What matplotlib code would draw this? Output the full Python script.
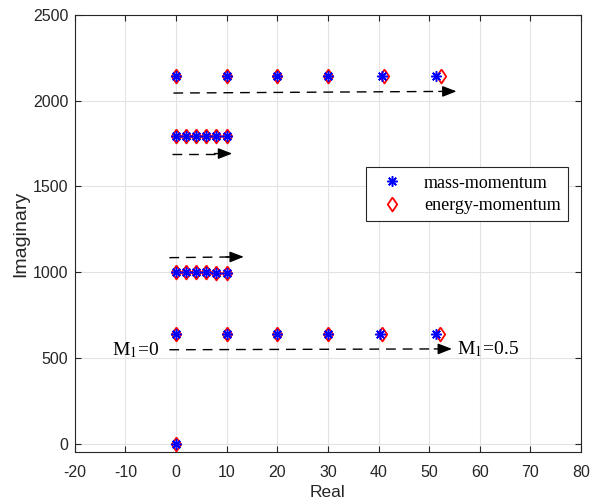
import matplotlib.pyplot as plt

# eigenvalues for M1 = 0 ... 0.5 (real, imaginary)
mass_re = [0, 0, 10, 20, 30, 40.6, 51.4,
           0, 2, 4, 6, 8, 10,
           0, 2, 4, 6, 8, 10,
           0, 10, 20, 30, 40.2, 51.3]
mass_im = [0, 2147, 2147, 2147, 2147, 2147, 2147,
           1792, 1792, 1792, 1792, 1792, 1792,
           1001, 1001, 1000, 999, 997, 995,
           640, 640, 640, 640, 640, 640]
energy_re = [0, 0, 10, 20, 30, 41.0, 52.4,
             0, 2, 4, 6, 8, 10,
             0, 2, 4, 6, 8, 10,
             0, 10, 20, 30, 40.7, 52.2]
energy_im = [0, 2147, 2147, 2147, 2147, 2147, 2147,
             1792, 1792, 1792, 1792, 1792, 1792,
             1001, 1001, 1000, 999, 997, 994,
             640, 640, 640, 640, 640, 640]

# dashed arrows showing the direction of increasing M1: (x0, y0, x1, y1)
arrows = [(-0.5, 2045, 55.4, 2055),
          (-0.8, 1692, 11.1, 1692),
          (-1.3, 1085, 13.4, 1090),
          (-1.3, 548, 54.5, 553)]

xticks = list(range(-20, 81, 10))
yticks = list(range(0, 2501, 500))

plt.rcParams['font.family'] = ['Liberation Sans', 'DejaVu Sans']
plt.rcParams['axes.unicode_minus'] = False
plt.rcParams['mathtext.fontset'] = 'stix'
ink = '#262626'

diamond = [(0, 1), (0.68, 0), (0, -1), (-0.68, 0), (0, 1)]

fig = plt.figure(figsize=(5.96, 5.04), dpi=100)
ax = fig.add_axes([0.1253, 0.1026, 0.8497, 0.8676])

ax.plot(energy_re, energy_im, linestyle='none', marker=diamond, markersize=10,
        markerfacecolor='none', markeredgecolor='red', markeredgewidth=1.3,
        label='energy-momentum', zorder=3)
ax.plot(mass_re, mass_im, linestyle='none', marker=(8, 2, 0), markersize=7.5,
        color='blue', markeredgewidth=1.1, label='mass-momentum', zorder=4)

for x0, y0, x1, y1 in arrows:
    xh = x1 - 0.035 * (x1 - x0) - 1.5
    ax.plot([x0, xh], [y0, y0 + (y1 - y0) * (xh - x0) / (x1 - x0)],
            color='black', lw=1.0, dashes=(7, 5), zorder=2)
    ax.annotate('', xy=(x1, y1), xytext=(x1 - 3.5, y1 - (y1 - y0) * 3.5 / (x1 - x0)),
                arrowprops=dict(arrowstyle='-|>,head_length=0.85,head_width=0.33',
                                color='black', lw=1.0, shrinkA=0, shrinkB=0))

serif = ['Liberation Serif', 'DejaVu Serif']
ax.text(-3.2, 548, r'M$_{\mathrm{1}}$=0', family=serif, fontsize=14, ha='right', va='center')
ax.text(55.4, 553, r'M$_{\mathrm{1}}$=0.5', family=serif, fontsize=14, ha='left', va='center')

ax.set_xlim(-20, 80)
ax.set_ylim(-50, 2500)
ax.set_xticks(xticks)
ax.set_yticks(yticks)
ax.grid(True, color='#e3e3e3', linewidth=0.8)
ax.set_axisbelow(True)
ax.tick_params(direction='in', top=True, right=True, length=4, labelsize=11.5,
               colors=ink)
ax.tick_params(axis='x', pad=9)
ax.tick_params(axis='y', pad=4.5)
for s in ax.spines.values():
    s.set_color(ink)
    s.set_linewidth(0.8)
ax.set_xlabel('Real', fontsize=12.5, color=ink, labelpad=4)
ax.set_ylabel('Imaginary', fontsize=14, color=ink, labelpad=3)

handles, labels = ax.get_legend_handles_labels()
leg = ax.legend(handles[::-1], labels[::-1], loc='center', bbox_to_anchor=(0.775, 0.59),
                prop={'family': serif, 'size': 13}, fancybox=False, framealpha=1,
                edgecolor=ink, borderpad=0.4, handletextpad=0.8, labelspacing=0.3)
leg.get_frame().set_linewidth(0.8)

plt.savefig('out.png', dpi=100)
